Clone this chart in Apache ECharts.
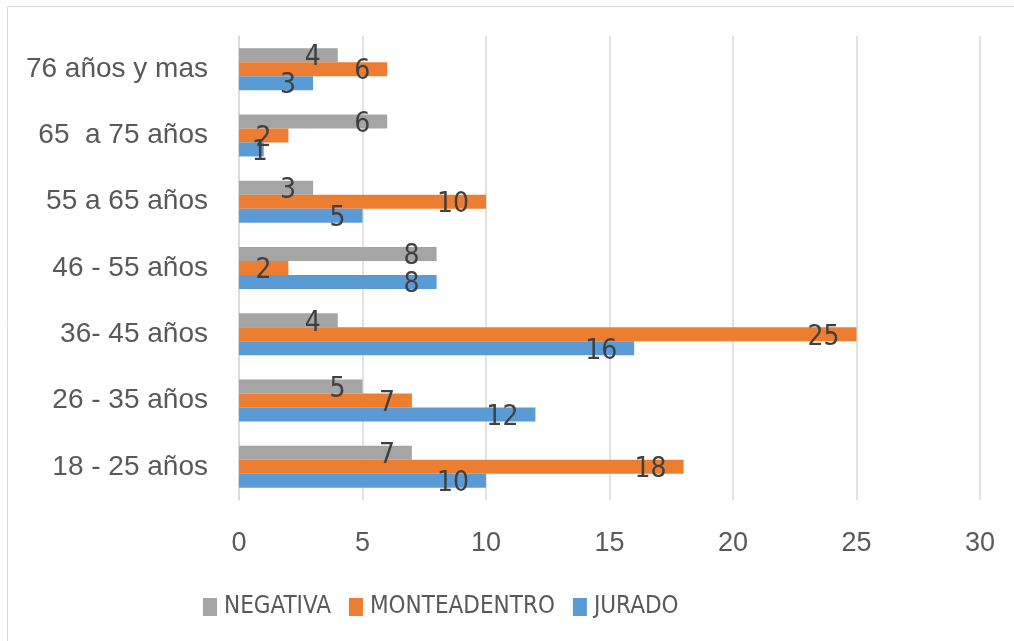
<!DOCTYPE html>
<html>
<head>
<meta charset="utf-8">
<script src="https://cdn.jsdelivr.net/npm/echarts@6/dist/echarts.min.js"></script>
<style>
html,body{margin:0;padding:0;background:#fff;}
#chart{width:1014px;height:641px;}
</style>
</head>
<body>
<div id="chart"></div>
<script>
const categories = ['18 - 25 años', '26 - 35 años', '36- 45 años', '46 - 55 años', '55 a 65 años', '65  a 75 años', '76 años y mas'];
const jurado = [10, 12, 16, 8, 5, 1, 3];
const monteadentro = [18, 7, 25, 2, 10, 2, 6];
const negativa = [7, 5, 4, 8, 3, 6, 4];
const xTicks = [0, 5, 10, 15, 20, 25, 30];

const narrow = '"Liberation Sans Narrow", "DejaVu Sans Condensed", "Liberation Sans", sans-serif';
const regular = '"Liberation Sans", sans-serif';

function mkSeries(name, data, color) {
  return {
    name: name,
    type: 'bar',
    data: data.map(function (v) {
      // very short bars: label sits centred over the bar end, as in the reference
      return v < 2 ? { value: v, label: { position: 'right', distance: -12 } } : v;
    }),
    barWidth: 14,
    barGap: '0%',
    itemStyle: { color: color },
    label: {
      show: true,
      position: 'insideRight',
      distance: 17,
      offset: [0, 3],
      color: '#404040',
      fontFamily: narrow,
      fontSize: 28
    },
    emphasis: { disabled: true },
    animation: false
  };
}

const chart = echarts.init(document.getElementById('chart'), null, { renderer: 'canvas' });
chart.setOption({
  backgroundColor: '#fff',
  animation: false,
  graphic: [{
    type: 'rect',
    shape: { x: 7.5, y: 6.5, width: 1020, height: 650 },
    style: { fill: 'none', stroke: '#d9d9d9', lineWidth: 1 },
    silent: true
  }],
  grid: { left: 239, right: 34, top: 36, bottom: 141, containLabel: false },
  legend: {
    data: ['NEGATIVA', 'MONTEADENTRO', 'JURADO'],
    left: 198,
    top: 590,
    icon: 'rect',
    itemWidth: 14,
    itemHeight: 18,
    itemGap: 18,
    textStyle: { color: '#595959', fontFamily: narrow, fontSize: 24, padding: [0, 0, 0, 2] }
  },
  xAxis: {
    type: 'value',
    min: xTicks[0],
    max: xTicks[xTicks.length - 1],
    interval: xTicks[1] - xTicks[0],
    axisLine: { show: false },
    axisTick: { show: false },
    splitLine: { lineStyle: { color: '#d9d9d9', width: 1.5 } },
    axisLabel: { color: '#595959', fontFamily: regular, fontSize: 27, margin: 30 }
  },
  yAxis: {
    type: 'category',
    data: categories,
    axisLine: { show: true, lineStyle: { color: '#d9d9d9', width: 1.5 } },
    axisTick: { show: false },
    axisLabel: { color: '#595959', fontFamily: regular, fontSize: 28, margin: 31 }
  },
  series: [
    mkSeries('NEGATIVA', negativa, '#A5A5A5'),
    mkSeries('MONTEADENTRO', monteadentro, '#ED7D31'),
    mkSeries('JURADO', jurado, '#5B9BD5')
  ]
});
</script>
</body>
</html>
